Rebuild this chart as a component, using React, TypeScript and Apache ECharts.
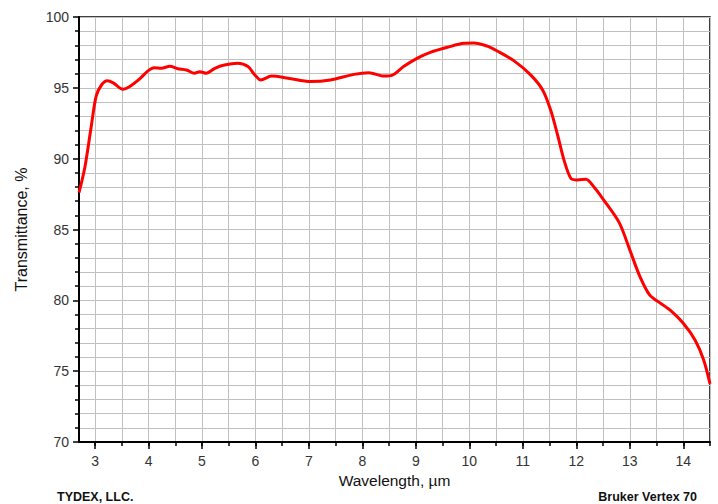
import React, { useEffect, useRef } from "react";
import * as echarts from "echarts";

const wavelength = [
  2.7, 2.81, 2.93, 3.02, 3.12, 3.23, 3.34, 3.52, 3.65, 3.84, 3.99, 4.11, 4.24, 4.4,
  4.55, 4.71, 4.86, 4.96, 5.08, 5.24, 5.42, 5.67, 5.86, 5.99, 6.1, 6.3, 6.61, 7.03,
  7.4, 7.84, 8.12, 8.4, 8.56, 8.77, 9.02, 9.27, 9.59, 9.9, 10.08, 10.33, 10.52,
  10.83, 11.15, 11.37, 11.52, 11.65, 11.77, 11.9, 12.02, 12.18, 12.33, 12.5, 12.8,
  13.0, 13.19, 13.37, 13.53, 13.75, 14.0, 14.22, 14.38, 14.5,
];
const transmittance = [
  87.6, 89.4, 92.3, 94.4, 95.2, 95.5, 95.35, 94.9, 95.1, 95.65, 96.2, 96.42, 96.38,
  96.52, 96.35, 96.26, 96.03, 96.14, 96.03, 96.38, 96.61, 96.73, 96.5, 95.9, 95.55,
  95.83, 95.68, 95.44, 95.55, 95.95, 96.07, 95.83, 95.9, 96.5, 97.08, 97.5, 97.86,
  98.14, 98.16, 97.95, 97.6, 96.92, 95.9, 94.85, 93.43, 91.67, 89.9, 88.6, 88.5,
  88.54, 88.0, 87.15, 85.5, 83.56, 81.67, 80.38, 79.91, 79.32, 78.38, 77.2, 75.8, 74.1,
];
const xMajorTicks = [3, 4, 5, 6, 7, 8, 9, 10, 11, 12, 13, 14];
const xMinorTicks = [3, 3.5, 4, 4.5, 5, 5.5, 6, 6.5, 7, 7.5, 8, 8.5, 9, 9.5, 10, 10.5, 11, 11.5, 12, 12.5, 13, 13.5, 14, 14.5];

const FONT = "Liberation Sans, Arial, sans-serif";

export default function App() {
  const ref = useRef<HTMLDivElement>(null);
  useEffect(() => {
    if (!ref.current) return;
    const chart = echarts.init(ref.current, undefined, { renderer: "svg" });
    const data = wavelength.map((w, i) => [w, transmittance[i]]);
    chart.setOption({
      animation: false,
      backgroundColor: "#fff",
      textStyle: { fontFamily: FONT },
      grid: {
        left: 79,
        right: 8,
        top: 17,
        bottom: 62,
        show: true,
        borderColor: "#000",
        borderWidth: 1.5,
      },
      xAxis: [
        {
          type: "value",
          min: 2.7,
          max: 14.5,
          name: "Wavelength, µm",
          nameLocation: "middle",
          nameGap: 28,
          nameTextStyle: { fontSize: 15.5, color: "#111", fontFamily: FONT },
          axisLine: { show: true, lineStyle: { color: "#000", width: 2 } },
          axisTick: {
            show: true,
            customValues: xMinorTicks,
            length: 4,
            lineStyle: { color: "#000", width: 1.5 },
          },
          axisLabel: {
            customValues: xMajorTicks,
            fontSize: 14,
            color: "#333",
            margin: 12,
            fontFamily: FONT,
          },
          splitLine: { show: true, lineStyle: { color: "#c0c0c0", width: 1 } },
        },
        {
          type: "value",
          min: 2.7,
          max: 14.5,
          position: "bottom",
          axisLine: { show: false },
          axisTick: {
            show: true,
            customValues: xMajorTicks,
            length: 7,
            lineStyle: { color: "#000", width: 1.5 },
          },
          axisLabel: { show: false },
          splitLine: { show: false },
        },
      ],
      yAxis: {
        type: "value",
        min: 70,
        max: 100,
        interval: 5,
        name: "Transmittance, %",
        nameLocation: "middle",
        nameGap: 50,
        nameTextStyle: { fontSize: 16, color: "#111", fontFamily: FONT },
        axisLine: { show: true, lineStyle: { color: "#000", width: 2 } },
        axisTick: { show: true, length: 6, lineStyle: { color: "#000", width: 1.5 } },
        minorTick: { show: true, splitNumber: 5, length: 4, lineStyle: { color: "#000", width: 1.5 } },
        axisLabel: { fontSize: 14, color: "#333", margin: 10, fontFamily: FONT },
        splitLine: { show: true, lineStyle: { color: "#c0c0c0", width: 1 } },
        minorSplitLine: { show: true, lineStyle: { color: "#c0c0c0", width: 1 } },
      },
      series: [
        {
          type: "line",
          xAxisIndex: 0,
          data,
          smooth: 0.3,
          symbol: "none",
          lineStyle: { color: "#ff0000", width: 3 },
          clip: true,
        },
      ],
      graphic: [
        {
          type: "text",
          left: 57,
          top: 490,
          style: { text: "TYDEX, LLC.", font: `bold 12.5px ${FONT}`, fill: "#111" },
        },
        {
          type: "text",
          right: 21,
          top: 490,
          style: { text: "Bruker Vertex 70", font: `bold 12.5px ${FONT}`, fill: "#111" },
        },
      ],
    });
    return () => chart.dispose();
  }, []);
  return (
    <div
      ref={ref}
      style={{ position: "fixed", left: 0, top: 0, width: 718, height: 504 }}
    />
  );
}
